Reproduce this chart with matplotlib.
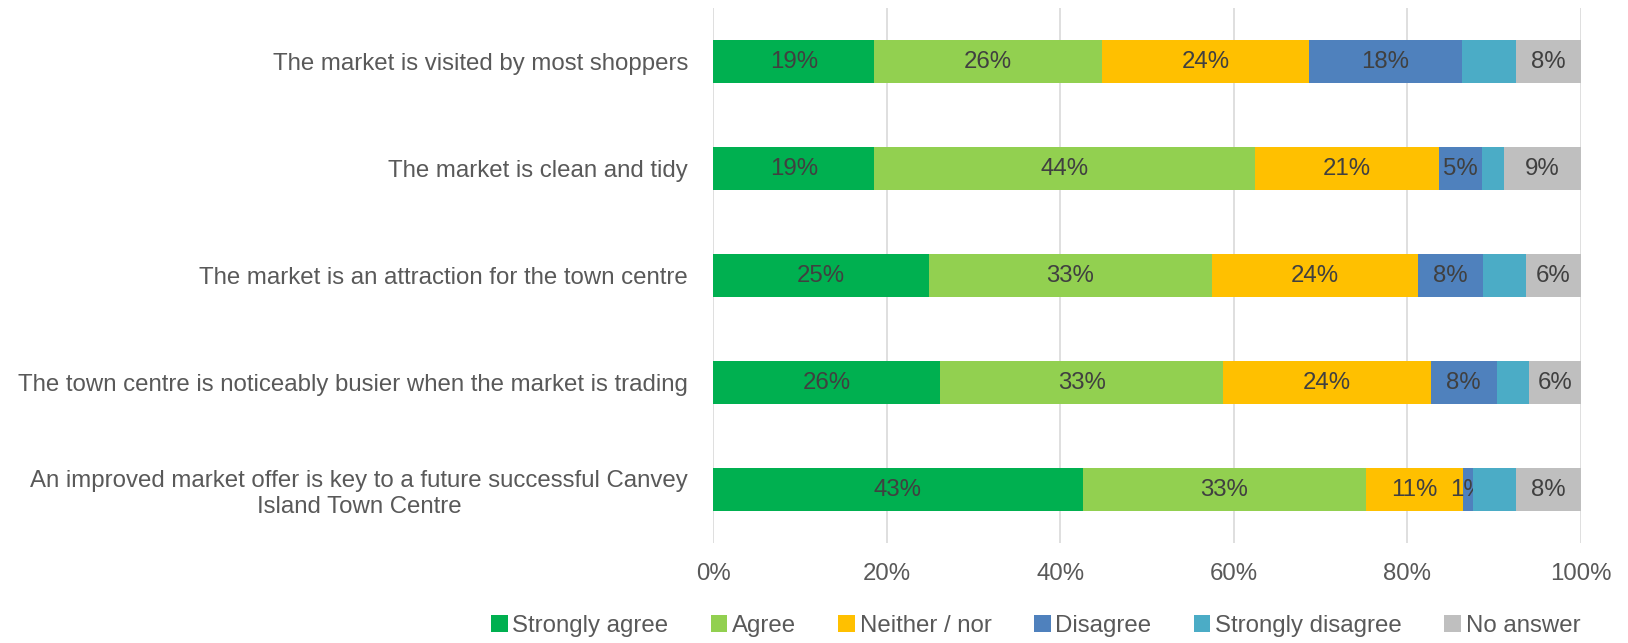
import numpy as np
import matplotlib.pyplot as plt

# statements, top to bottom
statements = [
    "The market is visited by most shoppers",
    "The market is clean and tidy",
    "The market is an attraction for the town centre",
    "The town centre is noticeably busier when the market is trading",
    "An improved market offer is key to a future successful Canvey\nIsland Town Centre",
]

# percentages per response, one value per statement
strongly_agree = [18.6, 18.6, 24.9, 26.2, 42.6]
agree = [26.2, 43.8, 32.6, 32.6, 32.6]
neither = [23.9, 21.3, 23.7, 23.9, 11.2]
disagree = [17.6, 4.9, 7.5, 7.6, 1.2]
strongly_disagree = [6.2, 2.5, 5.0, 3.7, 4.9]
no_answer = [7.5, 8.9, 6.3, 6.0, 7.5]

responses = ["Strongly agree", "Agree", "Neither / nor", "Disagree",
             "Strongly disagree", "No answer"]
colors = ["#00B050", "#92D050", "#FFC000", "#4F81BD", "#4BACC6", "#BFBFBF"]
show_labels = [True, True, True, True, False, True]

plt.rcParams['font.family'] = ['Liberation Sans', 'DejaVu Sans']
fs = 17.3

fig = plt.figure(figsize=(16.28, 6.43), dpi=100)
ax = fig.add_axes([0.438, 0.155, 0.533, 0.832])

series = [strongly_agree, agree, neither, disagree, strongly_disagree, no_answer]
y = np.arange(len(statements))
left = np.zeros(len(statements))
for name, vals, col, lab in zip(responses, series, colors, show_labels):
    vals = np.array(vals)
    bars = ax.barh(y, vals, left=left, height=0.4, color=col, label=name,
                   zorder=3)
    if lab:
        ax.bar_label(bars, labels=[f"{v:.0f}%" for v in vals],
                     label_type='center', fontsize=fs, color='#404040')
    left += vals

ax.set_xlim(0, 100)
ax.set_ylim(len(statements) - 0.5, -0.5)
ax.set_xticks(np.arange(0, 101, 20))
ax.set_xticklabels([f"{t}%" for t in range(0, 101, 20)])
ax.set_yticks(y)
ax.set_yticklabels(statements, multialignment='center')
ax.tick_params(axis='both', length=0, labelsize=fs, colors='#595959')
ax.tick_params(axis='y', pad=18)
ax.tick_params(axis='x', pad=14)
ax.grid(axis='x', color='#D9D9D9', linewidth=1.2, zorder=0)
for s in ax.spines.values():
    s.set_visible(False)

fig.legend(loc='center right', bbox_to_anchor=(0.984, 0.027), ncol=6,
           frameon=False, fontsize=fs, handlelength=0.7, handleheight=0.7,
           handletextpad=0.2, columnspacing=1.75, labelcolor='#595959')

fig.savefig("out.png", dpi=100)
